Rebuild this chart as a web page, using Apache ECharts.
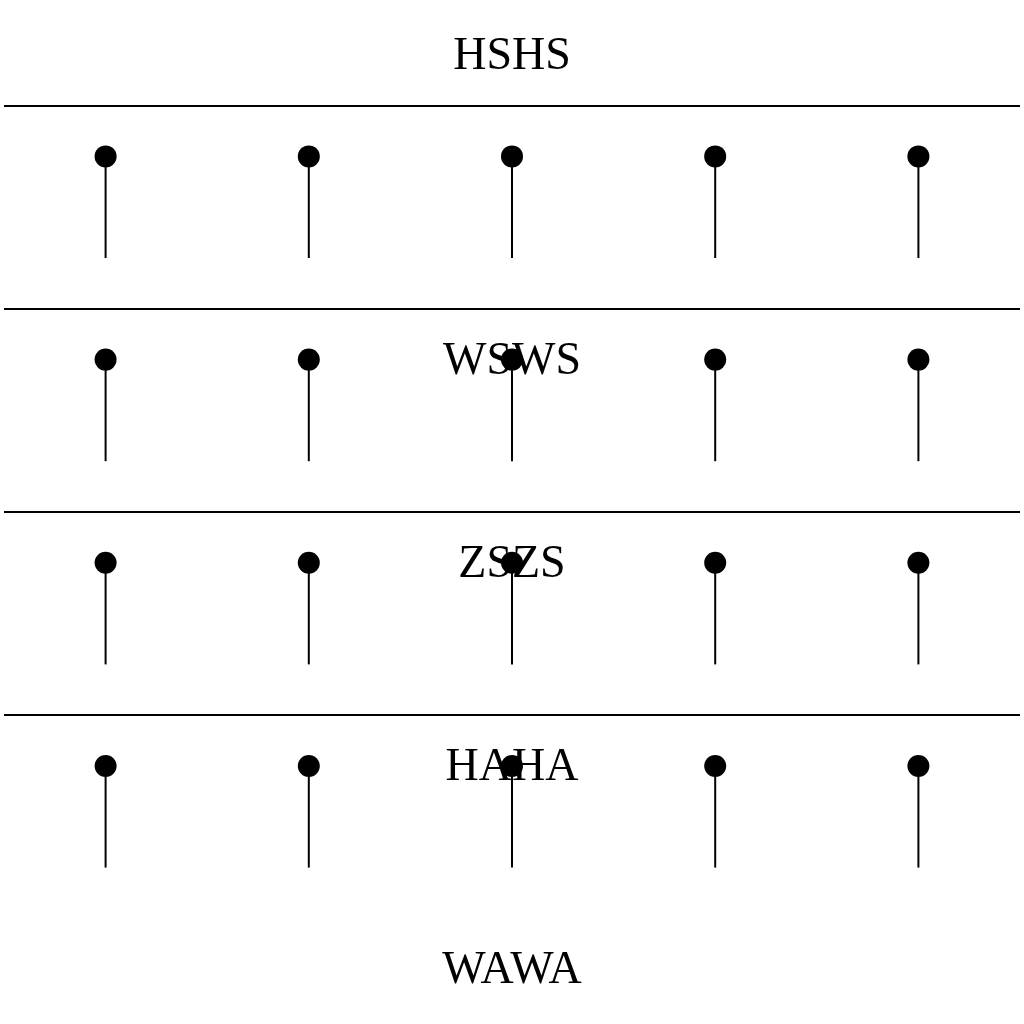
<!DOCTYPE html>
<html>
<head>
    <meta charset="utf-8">
    <script src="https://cdn.jsdelivr.net/npm/echarts@6/dist/echarts.min.js"></script>
    <style>
        html, body { margin: 0; padding: 0; background: #fff; }
    </style>
</head>

<body>
    <div id="main" style="width: 1024px;height:1024px;"></div>
    <script type="text/javascript">
        // columns of the lollipops (x units, 5 across)
        var columns = [0.5, 1.5, 2.5, 3.5, 4.5];
        // horizontal rule positions (y units, top down)
        var ruleRows = [0.5, 1.5, 2.5, 3.5];
        // each row of lollipops: dot position and stem end
        var stemTops = [0.75, 1.75, 2.75, 3.75];
        var stemBottoms = [1.25, 2.25, 3.25, 4.25];
        // text labels and their rows
        var labelTexts = ['HSHS', 'WSWS', 'ZSZS', 'HAHA', 'WAWA'];
        var labelRows = [0.26, 1.76, 2.76, 3.76, 4.76];

        var stemData = [];
        for (var r = 0; r < stemTops.length; r++) {
            for (var c = 0; c < columns.length; c++) {
                stemData.push([columns[c], stemTops[r], stemBottoms[r]]);
            }
        }
        var labelData = [];
        for (var i = 0; i < labelTexts.length; i++) {
            labelData.push([2.5, labelRows[i], labelTexts[i]]);
        }

        var option = {
            animation: false,
            backgroundColor: '#ffffff',
            grid: {left: 4, right: 4, top: 4, bottom: 4},
            xAxis: {
                type: 'value', min: 0, max: 5, show: false
            },
            yAxis: {
                type: 'value', min: 0, max: 5, inverse: true, show: false
            },
            series: [
                {
                    // the text sits underneath the dots
                    name: 'labels',
                    type: 'custom',
                    z: 1,
                    data: labelData,
                    renderItem: function (params, api) {
                        var p = api.coord([api.value(0), api.value(1)]);
                        return {
                            type: 'text',
                            x: p[0],
                            y: p[1],
                            style: {
                                text: labelData[params.dataIndex][2],
                                fill: '#000',
                                font: '46px "Liberation Serif", "DejaVu Serif", serif',
                                align: 'center',
                                verticalAlign: 'middle'
                            }
                        };
                    }
                },
                {
                    name: 'rules',
                    type: 'custom',
                    z: 2,
                    data: [],
                    renderItem: function () { return null; },
                    markLine: {
                        silent: true,
                        symbol: ['none', 'none'],
                        label: {show: false},
                        lineStyle: {color: '#000', width: 2, type: 'solid'},
                        data: ruleRows.map(function (v) { return {yAxis: v}; })
                    }
                },
                {
                    name: 'lollipops',
                    type: 'custom',
                    z: 3,
                    data: stemData,
                    renderItem: function (params, api) {
                        var top = api.coord([api.value(0), api.value(1)]);
                        var bottom = api.coord([api.value(0), api.value(2)]);
                        return {
                            type: 'group',
                            children: [
                                {
                                    type: 'line',
                                    shape: {x1: top[0], y1: top[1], x2: bottom[0], y2: bottom[1]},
                                    style: {stroke: '#000', lineWidth: 2}
                                },
                                {
                                    type: 'circle',
                                    shape: {cx: top[0], cy: top[1], r: 11},
                                    style: {fill: '#000'}
                                }
                            ]
                        };
                    }
                }
            ]
        };

        var myChart = echarts.init(document.getElementById('main'));
        myChart.setOption(option);
    </script>
</body>

</html>
